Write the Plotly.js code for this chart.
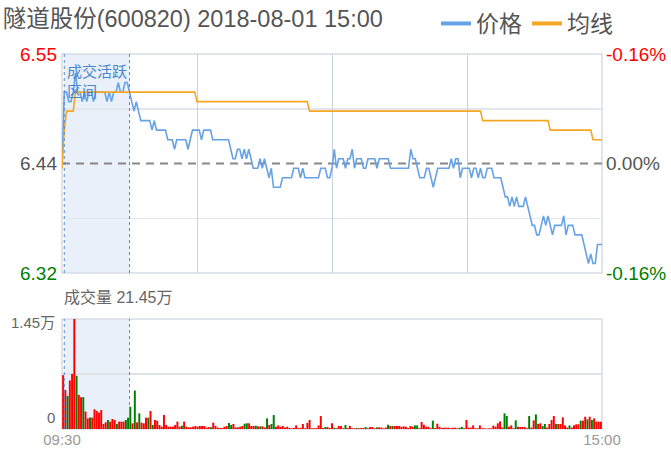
<!DOCTYPE html>
<html>
<head>
<meta charset="utf-8">
<script src="https://cdn.plot.ly/plotly-3.0.1.min.js"></script>
<style>
  html, body { margin: 0; padding: 0; background: #fff; }
  #chart { width: 671px; height: 453px; }
</style>
</head>
<body>
<div id="chart"></div>
<script>
// ---- Data (one value per minute, 09:30 .. 11:30, 13:01 .. 15:00; 241 points) ----
const titleText = '隧道股份(600820) 2018-08-01 15:00';
const seriesNames = ['价格', '均线'];
const timeLabels = ['09:30', '15:00'];
const priceTickText = ['6.32', '6.44', '6.55'];
const pctTickText = ['-0.16%', '0.00%', '-0.16%'];
const volTickText = ['1.45万', '0'];
const volTitle = '成交量 21.45万';
const activeLabel = '成交活跃<br>区间';
const activeRange = [1, 30];           // minute index of the active-trading band
const priceRange = [6.32, 6.55];
const prevClose = 6.435;
const volMax = 14500;

const price = [
  6.43,6.51,6.51,6.50,6.50,6.51,6.53,6.51,6.51,6.50,
  6.51,6.50,6.51,6.51,6.50,6.51,6.51,6.51,6.51,6.51,
  6.50,6.51,6.50,6.51,6.51,6.52,6.51,6.51,6.52,6.52,
  6.51,6.50,6.49,6.50,6.49,6.48,6.48,6.48,6.48,6.48,
  6.47,6.48,6.47,6.47,6.47,6.47,6.47,6.46,6.46,6.46,
  6.45,6.46,6.46,6.46,6.46,6.46,6.45,6.46,6.47,6.47,
  6.47,6.47,6.46,6.47,6.47,6.47,6.47,6.46,6.46,6.46,
  6.46,6.46,6.46,6.46,6.46,6.45,6.44,6.44,6.45,6.45,
  6.44,6.45,6.44,6.45,6.44,6.43,6.43,6.43,6.44,6.43,
  6.44,6.43,6.42,6.43,6.41,6.41,6.41,6.41,6.42,6.42,
  6.42,6.42,6.42,6.43,6.43,6.43,6.42,6.43,6.42,6.42,
  6.42,6.42,6.42,6.42,6.42,6.43,6.43,6.43,6.42,6.42,
  6.43,6.45,6.43,6.44,6.44,6.44,6.43,6.44,6.44,6.45,
  6.43,6.44,6.44,6.44,6.43,6.43,6.44,6.44,6.44,6.44,
  6.43,6.44,6.44,6.44,6.44,6.44,6.43,6.43,6.43,6.43,
  6.43,6.43,6.43,6.43,6.43,6.45,6.44,6.44,6.43,6.42,
  6.42,6.42,6.43,6.43,6.42,6.41,6.42,6.43,6.43,6.43,
  6.43,6.43,6.43,6.44,6.43,6.44,6.44,6.42,6.43,6.43,
  6.43,6.43,6.42,6.43,6.43,6.42,6.43,6.42,6.42,6.43,
  6.43,6.43,6.42,6.42,6.42,6.42,6.41,6.40,6.40,6.39,
  6.40,6.39,6.40,6.39,6.39,6.39,6.40,6.39,6.38,6.37,
  6.37,6.36,6.36,6.37,6.38,6.37,6.38,6.37,6.36,6.37,
  6.37,6.37,6.37,6.38,6.36,6.37,6.37,6.37,6.36,6.36,
  6.36,6.36,6.35,6.34,6.33,6.34,6.33,6.33,6.35,6.35,
  6.35
];

const avgPrice = [
  6.43,6.47,6.49,6.49,6.49,6.49,6.51,6.51,6.51,6.51,
  6.51,6.51,6.51,6.51,6.51,6.51,6.51,6.51,6.51,6.51,
  6.51,6.51,6.51,6.51,6.51,6.51,6.51,6.51,6.51,6.51,
  6.51,6.51,6.51,6.51,6.51,6.51,6.51,6.51,6.51,6.51,
  6.51,6.51,6.51,6.51,6.51,6.51,6.51,6.51,6.51,6.51,
  6.51,6.51,6.51,6.51,6.51,6.51,6.51,6.51,6.51,6.51,
  6.50,6.50,6.50,6.50,6.50,6.50,6.50,6.50,6.50,6.50,
  6.50,6.50,6.50,6.50,6.50,6.50,6.50,6.50,6.50,6.50,
  6.50,6.50,6.50,6.50,6.50,6.50,6.50,6.50,6.50,6.50,
  6.50,6.50,6.50,6.50,6.50,6.50,6.50,6.50,6.50,6.50,
  6.50,6.50,6.50,6.50,6.50,6.50,6.50,6.50,6.50,6.50,
  6.49,6.49,6.49,6.49,6.49,6.49,6.49,6.49,6.49,6.49,
  6.49,6.49,6.49,6.49,6.49,6.49,6.49,6.49,6.49,6.49,
  6.49,6.49,6.49,6.49,6.49,6.49,6.49,6.49,6.49,6.49,
  6.49,6.49,6.49,6.49,6.49,6.49,6.49,6.49,6.49,6.49,
  6.49,6.49,6.49,6.49,6.49,6.49,6.49,6.49,6.49,6.49,
  6.49,6.49,6.49,6.49,6.49,6.49,6.49,6.49,6.49,6.49,
  6.49,6.49,6.49,6.49,6.49,6.49,6.49,6.49,6.49,6.49,
  6.49,6.49,6.49,6.49,6.49,6.49,6.49,6.48,6.48,6.48,
  6.48,6.48,6.48,6.48,6.48,6.48,6.48,6.48,6.48,6.48,
  6.48,6.48,6.48,6.48,6.48,6.48,6.48,6.48,6.48,6.48,
  6.48,6.48,6.48,6.48,6.48,6.48,6.48,6.47,6.47,6.47,
  6.47,6.47,6.47,6.47,6.47,6.47,6.47,6.47,6.47,6.47,
  6.47,6.47,6.47,6.47,6.47,6.47,6.46,6.46,6.46,6.46,
  6.46
];

const volume = [
  7100,5150,4360,6400,7270,14500,7000,4500,4190,4200,
  2300,1400,1500,1500,2600,2380,2160,2500,660,880,
  1190,970,1320,1190,660,970,970,970,1190,1500,
  2950,750,5070,880,2070,840,750,1500,1500,2380,
  530,1190,1100,530,310,1850,530,310,310,310,
  530,970,310,440,970,310,220,220,310,400,
  310,400,400,400,180,250,220,830,400,200,
  130,130,300,400,790,530,660,220,220,300,
  400,700,750,750,400,400,440,350,350,350,
  200,1400,530,660,1840,300,480,300,400,200,
  300,150,100,150,480,100,150,660,100,800,
  1185,100,100,120,480,1710,130,260,260,130,
  750,180,100,400,400,100,530,150,400,100,
  100,130,100,130,130,260,100,260,260,100,
  220,220,200,100,200,570,400,400,400,400,
  400,300,350,300,130,400,300,480,480,100,
  920,570,300,300,100,1100,130,700,300,150,
  180,180,180,100,180,180,100,180,260,100,
  1185,180,180,480,100,100,480,100,100,50,
  90,90,440,300,750,1000,200,2060,1710,300,
  480,100,1140,300,260,260,260,100,1710,200,
  1140,1930,660,750,400,660,200,660,1185,1710,
  660,660,660,1540,480,200,480,200,480,620,
  620,1100,1100,1620,1270,1620,1185,1400,970,970,
  970
];

// 'u' = red (up) bar, 'd' = green (down) bar
const volDir = [
  'u','u','d','u','u','u','d','u','u','d',
  'u','u','d','u','u','u','u','u','u','u',
  'd','u','u','u','d','u','u','u','d','d',
  'd','u','d','u','d','u','u','u','d','u',
  'd','u','u','u','u','u','u','u','u','u',
  'u','u','u','d','u','u','u','u','u','u',
  'u','u','u','u','u','u','d','u','u','u',
  'u','u','u','u','d','d','u','u','u','u',
  'u','d','d','u','u','u','d','u','d','u',
  'u','d','u','d','d','u','u','u','u','u',
  'u','u','u','u','u','u','u','u','u','u',
  'u','u','u','u','u','u','u','d','u','u',
  'u','d','u','u','u','u','d','u','u','u',
  'u','d','u','u','u','d','u','u','u','u',
  'd','u','u','u','u','d','u','d','u','u',
  'u','u','u','u','u','u','u','d','d','u',
  'u','u','u','u','u','d','u','u','u','u',
  'u','u','u','u','u','u','u','d','d','u',
  'u','u','u','u','u','u','u','u','u','u',
  'u','u','u','u','u','u','u','d','d','u',
  'u','u','d','u','u','u','u','u','d','u',
  'u','d','u','u','d','d','u','u','u','u',
  'd','u','u','u','u','u','d','u','u','u',
  'u','d','u','u','d','u','d','u','u','u',
  'u'
];

// ---- Styles ----
const FONT = "'Liberation Sans', Arial, 'Noto Sans CJK SC', sans-serif";
const BLUE = '#68a2e6';
const ORANGE = '#f5a623';
const RED = '#ff0000';
const GREEN = '#008000';
const GREY = '#555555';

const minutes = price.map((_, i) => i);
const midLow = priceRange[0] + (prevClose - priceRange[0]) / 2;
const midHigh = prevClose + (priceRange[1] - prevClose) / 2;

function colored(t, c) { return '<span style="color:' + c + '">' + t + '</span>'; }

const traces = [
  // average line on the right-hand (percent) axis, which shares the price range
  { x: minutes, y: avgPrice, type: 'scatter', mode: 'lines', xaxis: 'x', yaxis: 'y2',
    line: { color: ORANGE, width: 1.6 }, showlegend: false, hoverinfo: 'skip' },
  { x: minutes, y: price, type: 'scatter', mode: 'lines', xaxis: 'x', yaxis: 'y',
    line: { color: BLUE, width: 1.6 }, showlegend: false, hoverinfo: 'skip' },
  { x: minutes, y: volume, type: 'bar', xaxis: 'x2', yaxis: 'y3',
    marker: { color: volDir.map(d => d === 'u' ? RED : GREEN), line: { width: 0 } },
    showlegend: false, hoverinfo: 'skip' },
  // legend entries
  { x: [null], y: [null], type: 'scatter', mode: 'lines', name: seriesNames[0],
    line: { color: BLUE, width: 4 }, xaxis: 'x', yaxis: 'y' },
  { x: [null], y: [null], type: 'scatter', mode: 'lines', name: seriesNames[1],
    line: { color: ORANGE, width: 4 }, xaxis: 'x', yaxis: 'y' }
];

const PRICE_DOMAIN = [0.416, 1];
const VOL_DOMAIN = [0, 0.2933];
const BORDER = '#d8dce4';

const shapes = [];
// active-trading band (both panels)
['y domain', 'y3 domain'].forEach(yr => {
  shapes.push({ type: 'rect', xref: 'x', yref: yr, x0: activeRange[0], x1: activeRange[1], y0: 0, y1: 1,
    fillcolor: '#e9f0fa', line: { width: 0 }, layer: 'below' });
  activeRange.forEach(xv => shapes.push({ type: 'line', xref: 'x', yref: yr, x0: xv, x1: xv, y0: 0, y1: 1,
    line: { color: '#4f8ad3', width: 1, dash: '3px,3px' }, layer: 'above' }));
  shapes.push({ type: 'rect', xref: 'x domain', yref: yr, x0: 0, x1: 1, y0: 0, y1: 1,
    line: { color: BORDER, width: 1.5 }, layer: 'below' });
});
// previous close dashed line
shapes.push({ type: 'line', xref: 'x domain', yref: 'y', x0: 0, x1: 1, y0: prevClose, y1: prevClose,
  line: { color: '#888888', width: 1.8, dash: '8px,6px' }, layer: 'below' });

const layout = {
  width: 671, height: 453,
  margin: { l: 62, r: 69, t: 54, b: 24, pad: 0, autoexpand: false },
  paper_bgcolor: '#ffffff', plot_bgcolor: 'rgba(0,0,0,0)',
  font: { family: FONT, color: GREY },
  title: { text: titleText, font: { family: FONT, size: 23.5, color: GREY },
    x: 0.004, xanchor: 'left', xref: 'container', y: 1 - 19 / 453, yanchor: 'middle', yref: 'container',
    automargin: false },
  showlegend: true,
  legend: { orientation: 'h', xref: 'container', x: 436 / 671, xanchor: 'left',
    yref: 'container', y: 1 - 2 / 453, yanchor: 'top',
    font: { family: FONT, size: 23, color: GREY }, bgcolor: 'rgba(0,0,0,0)', itemwidth: 30 },
  bargap: 0.12,
  xaxis: { anchor: 'y', domain: [0, 1], range: [0, price.length - 1], tickmode: 'array', tickvals: [60, 120, 180],
    showticklabels: false, showgrid: true, gridcolor: '#cbd0da', gridwidth: 1, zeroline: false, showline: false, ticks: '' },
  yaxis: { anchor: 'x', domain: PRICE_DOMAIN, range: priceRange, tickmode: 'array',
    tickvals: [priceRange[0], prevClose, priceRange[1]],
    ticktext: [colored(priceTickText[0], GREEN), colored(priceTickText[1], GREY), colored(priceTickText[2], RED)],
    tickfont: { family: FONT, size: 19 }, showgrid: false, zeroline: false, showline: false, ticks: '',
    ticklabelstandoff: 4,
    minor: { tickmode: 'array', tickvals: [midLow, midHigh], showgrid: true, gridcolor: '#e3e6ec', gridwidth: 1.5, ticks: '' } },
  yaxis2: { overlaying: 'y', anchor: 'x', side: 'right', range: priceRange, tickmode: 'array',
    tickvals: [priceRange[0], prevClose, priceRange[1]],
    ticktext: [colored(pctTickText[0], GREEN), colored(pctTickText[1], GREY), colored(pctTickText[2], RED)],
    tickfont: { family: FONT, size: 19 }, showgrid: false, zeroline: false, showline: false, ticks: '',
    ticklabelstandoff: 3 },
  xaxis2: { anchor: 'y3', domain: [0, 1], range: [-0.5, price.length - 0.5], tickmode: 'array',
    tickvals: [-0.5, price.length - 0.5], ticktext: timeLabels,
    tickfont: { family: FONT, size: 15, color: '#999999' }, showgrid: false, zeroline: false, showline: false, ticks: '' },
  yaxis3: { anchor: 'x2', domain: VOL_DOMAIN, range: [0, volMax], tickmode: 'array', tickvals: [volMax / 2],
    showticklabels: false, showgrid: true, gridcolor: '#dfe2e8', gridwidth: 1.5, zeroline: false, showline: false, ticks: '' },
  shapes: shapes,
  annotations: [
    { text: activeLabel, xref: 'x', x: activeRange[0] + 0.4, xanchor: 'left', yref: 'paper', y: (429 - 61) / 375,
      yanchor: 'top', align: 'left', showarrow: false, font: { family: FONT, size: 15, color: '#4a86d0' } },
    { text: volTitle, xref: 'paper', x: 0, xanchor: 'left', yref: 'paper', y: (429 - 297) / 375, yanchor: 'middle',
      showarrow: false, font: { family: FONT, size: 16, color: '#666666' } },
    { text: volTickText[0], xref: 'paper', x: -5 / 540, xanchor: 'right', yref: 'paper', y: (429 - 322) / 375,
      yanchor: 'middle', showarrow: false, font: { family: FONT, size: 15, color: '#666666' } },
    { text: volTickText[1], xref: 'paper', x: -5 / 540, xanchor: 'right', yref: 'paper', y: (429 - 417) / 375,
      yanchor: 'middle', showarrow: false, font: { family: FONT, size: 15, color: '#666666' } }
  ],
  hovermode: false
};

Plotly.newPlot('chart', traces, layout, { staticPlot: true, displayModeBar: false });
</script>
</body>
</html>
